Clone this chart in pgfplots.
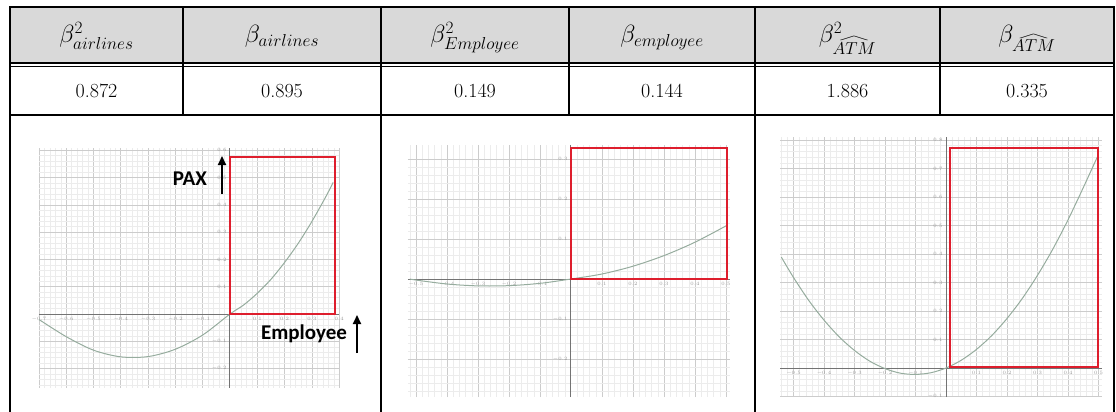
\documentclass[border=0pt]{standalone}
\usepackage{pgfplots}
\pgfplotsset{compat=1.18}
\usepackage{amsmath}
\usepackage{graphicx}
\usepackage{fontspec}
\usetikzlibrary{arrows.meta}
\newfontfamily\carlito{Carlito}
\definecolor{hdr}{RGB}{217,217,217}
\definecolor{gmaj}{RGB}{204,204,204}
\definecolor{gmin}{RGB}{236,236,236}
\definecolor{axg}{RGB}{115,115,115}
\definecolor{crv}{RGB}{150,172,158}
\definecolor{rr}{RGB}{222,30,45}
\newcommand{\atm}{\smash{\raisebox{-5pt}{$\scriptstyle\overset{\raisebox{-2pt}{\resizebox{34pt}{4pt}{$\wedge$}}}{ATM}$}}}
\pgfplotsset{desmos/.style={
  scale only axis, axis lines=middle,
  axis line style={-, draw=axg, line width=1pt},
  grid=both, minor tick num=4,
  major grid style={draw=gmaj, line width=0.6pt},
  minor grid style={draw=gmin, line width=0.4pt},
  major tick length=0pt, minor tick length=0pt,
  ticklabel style={font=\fontsize{3.5}{4}\selectfont, text=gray!80},
  xtick distance=0.1, ytick distance=0.1,
  anchor=south west,
}}
\begin{document}
\begin{tikzpicture}
\begin{scope}[x=1pt,y=-1pt]
\useasboundingbox (0,0) rectangle (1116,412);
\fill[hdr] (10,7) rectangle (1114,63);
\draw[line width=1.2pt] (10,63) -- (1114,63);
\draw[line width=0.9pt] (10,66.5) -- (1114,66.5);
\draw[line width=1.5pt] (10,115) -- (1114,115);
\draw[line width=1.5pt] (183,7) -- (183,115);
\draw[line width=1.5pt] (569,7) -- (569,115);
\draw[line width=1.5pt] (940,7) -- (940,115);
\draw[line width=1.5pt] (381,7) -- (381,412);
\draw[line width=1.5pt] (755,7) -- (755,412);
\draw[line width=1.8pt] (10,412) -- (10,7) -- (1114,7) -- (1114,412);
\begin{scope}[font=\fontsize{27}{30}\selectfont]
\node[anchor=base] at (96.5,43) {$\beta^2_{airlines}$};
\node[anchor=base] at (282,43) {$\beta_{airlines}$};
\node[anchor=base] at (475,43) {$\beta^2_{Employee}$};
\node[anchor=base] at (662,43) {$\beta_{employee}$};
\node[anchor=base] at (847.5,43) {$\beta^2_{\atm}$};
\node[anchor=base] at (1027,43) {$\beta_{\atm}$};
\end{scope}
\begin{scope}[font=\fontsize{20}{22}\selectfont]
\node[anchor=base] at (96.5,97) {0.872};
\node[anchor=base] at (282,97) {0.895};
\node[anchor=base] at (475,97) {0.149};
\node[anchor=base] at (662,97) {0.144};
\node[anchor=base] at (847.5,97) {1.886};
\node[anchor=base] at (1027,97) {0.335};
\end{scope}
\end{scope}
% graph 1
\begin{axis}[desmos, at={(38.9pt,-387.7pt)}, width=300.3pt, height=240.2pt,
  xmin=-0.70, xmax=0.40, ymin=-0.27, ymax=0.61]
\addplot[crv, line width=1pt, smooth] coordinates {
(-0.70,-0.02) (-0.6,-0.083) (-0.5,-0.1325) (-0.4,-0.157) (-0.3,-0.156) (-0.2,-0.129)
(-0.1,-0.077) (0,0) (0.05,0.033) (0.1,0.076) (0.15,0.127) (0.2,0.189) (0.25,0.259)
(0.3,0.339) (0.35,0.428) (0.378,0.482)};
\addplot[rr, line width=1.6pt] coordinates {(0,0) (0.385,0) (0.385,0.575) (0,0.575)} -- cycle;
\end{axis}
% graph 2
\begin{axis}[desmos, at={(407.9pt,-397pt)}, width=322.1pt, height=252pt,
  xmin=-0.526, xmax=0.513, ymin=-0.295, ymax=0.335]
\addplot[crv, line width=1pt, smooth] coordinates {
(-0.52,0) (-0.5,-0.0026) (-0.4,-0.0125) (-0.3,-0.0172) (-0.2,-0.0166) (-0.1,-0.0109)
(0,0) (0.1,0.0125) (0.2,0.032) (0.3,0.0585) (0.4,0.092) (0.503,0.134)};
\addplot[rr, line width=1.6pt] coordinates {(0,0) (0.503,0) (0.503,0.3275) (0,0.3275)} -- cycle;
\end{axis}
% graph 3
\begin{axis}[desmos, at={(780.1pt,-397.1pt)}, width=321.8pt, height=260pt,
  xmin=-0.544, xmax=0.511, ymin=-0.102, ymax=0.81]
\addplot[crv, line width=1pt, smooth] coordinates {
(-0.54,0.389) (-0.50,0.3175) (-0.45,0.237) (-0.40,0.168) (-0.35,0.109) (-0.30,0.0615)
(-0.25,0.024) (-0.20,-0.002) (-0.15,-0.018) (-0.10,-0.0225) (-0.05,-0.0166) (0,0)
(0.05,0.0274) (0.10,0.0655) (0.15,0.114) (0.20,0.174) (0.25,0.244) (0.30,0.3255)
(0.35,0.417) (0.40,0.52) (0.45,0.633) (0.498,0.745)};
\addplot[rr, line width=1.6pt] coordinates {(0.013,0.0035) (0.498,0.0035) (0.498,0.772) (0.013,0.772)} -- cycle;
\end{axis}
% labels graph 1
\node[font=\carlito\bfseries\fontsize{21}{21}\selectfont] at (190pt,-179pt) {PAX};
\node[font=\carlito\bfseries\fontsize{21}{21}\selectfont] at (304pt,-334pt) {Employee};
\draw[line width=1.8pt, -{Triangle[length=9pt,width=8pt]}] (222pt,-194pt) -- (222pt,-156pt);
\draw[line width=1.8pt, -{Triangle[length=9pt,width=8pt]}] (357pt,-353pt) -- (357pt,-315pt);
\end{tikzpicture}
\end{document}
